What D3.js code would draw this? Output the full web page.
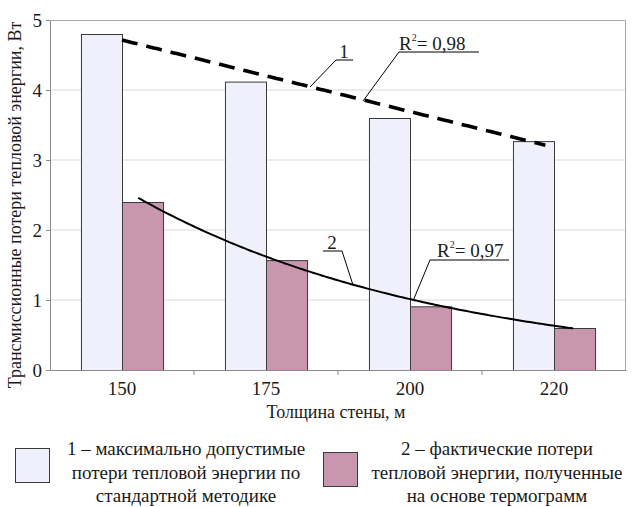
<!DOCTYPE html>
<html>
<head>
<meta charset="utf-8">
<script src="https://cdn.jsdelivr.net/npm/d3@7/dist/d3.min.js"></script>
<style>
  html, body { margin: 0; padding: 0; background: #fff; }
  svg { display: block; }
  text { font-family: "Liberation Serif", "Times New Roman", serif; fill: #1a1a1a; }
</style>
</head>
<body>
<svg id="chart" width="636" height="507"></svg>
<script>
// Wall thickness categories and heat loss values, W
const categories = ["150", "175", "200", "220"];
const maxLoss = [4.8, 4.12, 3.6, 3.27];      // 1 – standard method limit
const actualLoss = [2.4, 1.57, 0.91, 0.6];   // 2 – from thermograms
const yTicks = [0, 1, 2, 3, 4, 5];
const seriesKeys = ["max", "actual"];
const trendLabels = ["1", "2"];
const r2Labels = ["0,98", "0,97"];
const yTitle = "Трансмиссионные потери тепловой энергии, Вт";
const xTitle = "Толщина стены, м";
const legend1 = ["1 – максимально допустимые", "потери тепловой энергии по", "стандартной методике"];
const legend2 = ["2 – фактические потери", "тепловой энергии, полученные", "на основе термограмм"];

const colors = { max: "#eff0fc", actual: "#c996b0" };

const svg = d3.select("#chart");
const plot = { left: 50, right: 626, top: 20, bottom: 370 };

const x = d3.scaleBand().domain(categories)
  .range([plot.left, plot.right]).paddingInner(0.43).paddingOuter(0.215);
const xSub = d3.scaleBand().domain(seriesKeys).range([0, x.bandwidth()]);
const y = d3.scaleLinear().domain([0, 5]).range([plot.bottom, plot.top]);
const step = x.step();
// continuous category index -> pixel (band centres)
const xi = d3.scaleLinear().domain([0, categories.length - 1])
  .range([x(categories[0]) + x.bandwidth() / 2, x(categories[categories.length - 1]) + x.bandwidth() / 2]);

// grid
svg.append("g").selectAll("line").data(yTicks.filter(d => d > 0 && d < 5)).join("line")
  .attr("x1", plot.left).attr("x2", plot.right)
  .attr("y1", d => y(d)).attr("y2", d => y(d))
  .attr("stroke", "#d9d9d9").attr("stroke-width", 1);

// frame (top and right)
svg.append("path")
  .attr("d", `M${plot.left},${plot.top + 0.5}H${plot.right - 0.5}V${plot.bottom}`)
  .attr("fill", "none").attr("stroke", "#a8a8a8").attr("stroke-width", 1);

// bars
const rows = categories.map((c, i) => ({ c, max: maxLoss[i], actual: actualLoss[i] }));
const groups = svg.append("g").selectAll("g").data(rows).join("g")
  .attr("transform", d => `translate(${x(d.c)},0)`);
groups.selectAll("rect").data(d => seriesKeys.map(k => ({ k, v: d[k] }))).join("rect")
  .attr("x", d => xSub(d.k) + 0.5)
  .attr("y", d => y(d.v) + 0.5)
  .attr("width", xSub.bandwidth())
  .attr("height", d => y(0) - y(d.v))
  .attr("fill", d => colors[d.k])
  .attr("stroke", "#3a3a3a").attr("stroke-width", 1);

// axes
const yAxis = svg.append("g").attr("transform", `translate(${plot.left},0)`)
  .call(d3.axisLeft(y).tickValues(yTicks).tickFormat(d3.format("d"))
    .tickSize(4).tickSizeOuter(0).tickPadding(4));
yAxis.select(".domain").attr("stroke", "#8a8a8a");
yAxis.selectAll(".tick line").attr("stroke", "#8a8a8a");
yAxis.selectAll(".tick text").attr("font-size", 19).attr("font-family", "Liberation Serif").attr("fill", "#1a1a1a");

const xAxis = svg.append("g").attr("transform", `translate(0,${plot.bottom})`)
  .call(d3.axisBottom(x).tickSize(0).tickSizeOuter(0).tickPadding(12));
xAxis.select(".domain").attr("stroke", "#8a8a8a");
xAxis.selectAll(".tick text").attr("font-size", 19).attr("font-family", "Liberation Serif").attr("fill", "#1a1a1a");
// ticks between categories
svg.append("g").selectAll("line").data(categories.slice(1)).join("line")
  .attr("x1", d => x(d) - x.paddingInner() * step / 2).attr("x2", d => x(d) - x.paddingInner() * step / 2)
  .attr("y1", plot.bottom).attr("y2", plot.bottom + 5)
  .attr("stroke", "#8a8a8a");

// least-squares trends: linear for series 1, exponential for series 2
const idx = categories.map((_, i) => i);
function linFit(xs, ys) {
  const mx = d3.mean(xs), my = d3.mean(ys);
  const b = d3.sum(xs, (v, i) => (v - mx) * (ys[i] - my)) / d3.sum(xs, v => (v - mx) ** 2);
  return { a: my - b * mx, b };
}
const f1 = linFit(idx, maxLoss);
const f2 = linFit(idx, actualLoss.map(Math.log));
const trend1 = t => f1.a + f1.b * t;
const trend2 = t => Math.exp(f2.a + f2.b * t);

const pinkShift = xSub("actual") + xSub.bandwidth() / 2 - x.bandwidth() / 2;
const t1 = d3.range(0, 2.94 + 1e-9, 0.02);
const t2 = d3.range(-0.03, 2.99 + 1e-9, 0.02);

svg.append("path")
  .datum(t1)
  .attr("d", d3.line().x(t => xi(t)).y(t => y(trend1(t))))
  .attr("fill", "none").attr("stroke", "#000").attr("stroke-width", 3.6)
  .attr("stroke-dasharray", "16,9");

svg.append("path")
  .datum(t2)
  .attr("d", d3.line().curve(d3.curveBasis).x(t => xi(t) + pinkShift).y(t => y(trend2(t))))
  .attr("fill", "none").attr("stroke", "#000").attr("stroke-width", 2);

// callouts
const callouts = svg.append("g").attr("stroke", "#000").attr("stroke-width", 1).attr("fill", "none");
callouts.append("path").attr("d", "M310,87L336,60H353");
callouts.append("path").attr("d", "M363,101L399,52H479");
callouts.append("path").attr("d", "M353,285L342,251H323");
callouts.append("path").attr("d", "M413,301L430,260H509");

const lab = svg.append("g").attr("font-size", 19);
lab.append("text").attr("x", 344).attr("y", 58).attr("text-anchor", "middle").text(trendLabels[0]);
lab.append("text").attr("x", 332).attr("y", 249).attr("text-anchor", "middle").text(trendLabels[1]);

function r2(xp, yp, val) {
  const t = lab.append("text").attr("x", xp).attr("y", yp);
  t.append("tspan").text("R");
  t.append("tspan").attr("font-size", 10).attr("dy", -9).text("2");
  t.append("tspan").attr("dy", 9).text("= " + val);
}
r2(399, 50, r2Labels[0]);
r2(437, 257, r2Labels[1]);

// axis titles
svg.append("text").attr("transform", `translate(21,${(plot.top + plot.bottom) / 2 + 10}) rotate(-90)`)
  .attr("text-anchor", "middle").attr("font-size", 18).text(yTitle);
svg.append("text").attr("x", 336).attr("y", 418).attr("text-anchor", "middle")
  .attr("font-size", 18).text(xTitle);

// legend
const lg = svg.append("g");
lg.append("rect").attr("x", 15.5).attr("y", 448.5).attr("width", 34).attr("height", 34)
  .attr("fill", colors.max).attr("stroke", "#3a3a3a");
lg.append("rect").attr("x", 323.5).attr("y", 452.5).attr("width", 34).attr("height", 34)
  .attr("fill", colors.actual).attr("stroke", "#3a3a3a");
lg.append("g").selectAll("text").data(legend1).join("text")
  .attr("x", 186).attr("y", (d, i) => 455 + i * 23.5).attr("text-anchor", "middle")
  .attr("font-size", 19).text(d => d);
lg.append("g").selectAll("text").data(legend2).join("text")
  .attr("x", 497).attr("y", (d, i) => 455 + i * 23.5).attr("text-anchor", "middle")
  .attr("font-size", 19).text(d => d);
</script>
</body>
</html>
